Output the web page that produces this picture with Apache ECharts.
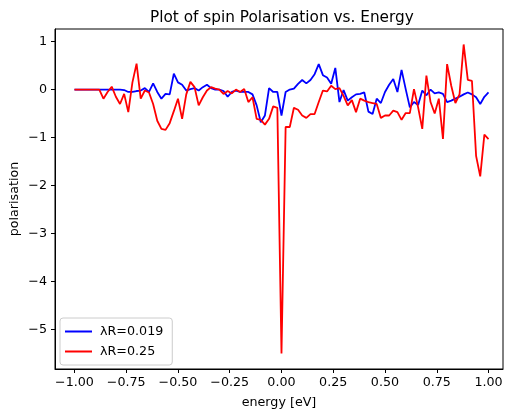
<!DOCTYPE html>
<html><head><meta charset="utf-8">
<script src="https://cdn.jsdelivr.net/npm/echarts@6/dist/echarts.min.js"></script>
<style>html,body{margin:0;padding:0;background:#fff}#c{width:506px;height:411px}</style>
</head><body><div id="c"></div>
<script>
// energy grid [eV]
const energy = [
 -1.00,-0.98,-0.96,-0.94,-0.92,-0.90,-0.88,-0.86,-0.84,-0.82,
 -0.80,-0.78,-0.76,-0.74,-0.72,-0.70,-0.68,-0.66,-0.64,-0.62,
 -0.60,-0.58,-0.56,-0.54,-0.52,-0.50,-0.48,-0.46,-0.44,-0.42,
 -0.40,-0.38,-0.36,-0.34,-0.32,-0.30,-0.28,-0.26,-0.24,-0.22,
 -0.20,-0.18,-0.16,-0.14,-0.12,-0.10,-0.08,-0.06,-0.04,-0.02,
  0.00,
  0.02, 0.04, 0.06, 0.08, 0.10, 0.12, 0.14, 0.16, 0.18, 0.20,
  0.22, 0.24, 0.26, 0.28, 0.30, 0.32, 0.34, 0.36, 0.38, 0.40,
  0.42, 0.44, 0.46, 0.48, 0.50, 0.52, 0.54, 0.56, 0.58, 0.60,
  0.62, 0.64, 0.66, 0.68, 0.70, 0.72, 0.74, 0.76, 0.78, 0.80,
  0.82, 0.84, 0.86, 0.88, 0.90, 0.92, 0.94, 0.96, 0.98, 1.00
];
// polarisation, lambdaR = 0.019
const polLow = [
  0, 0, 0, 0, 0, 0, 0, 0, 0, 0,
  0, 0, -0.01, -0.05, -0.05, -0.03, -0.02, 0.03, -0.05, 0.13,
  -0.05, -0.19, -0.09, -0.10, 0.33, 0.15, 0.10, -0.02, 0.01, 0.03,
  -0.02, 0.05, 0.10, 0.03, 0, 0, -0.03, -0.15, -0.05, -0.02,
  -0.05, -0.05, -0.05, -0.10, -0.33, -0.68, -0.54, 0.03, -0.05, -0.05,
  -0.54,
  -0.05, 0, 0.02, 0.12, 0.20, 0.13, 0.20, 0.32, 0.53, 0.30,
  0.25, 0.12, 0.45, -0.26, -0.01, -0.23, -0.16, -0.10, -0.09, -0.06,
  -0.46, -0.51, -0.19, -0.28, -0.05, 0.10, 0.22, -0.05, 0.41, 0.01,
  -0.37, -0.26, -0.32, -0.02, -0.12, 0, -0.08, -0.06, -0.09, -0.26,
  -0.23, -0.19, -0.15, -0.10, -0.06, -0.10, -0.16, -0.30, -0.15, -0.06
];
// polarisation, lambdaR = 0.25
const polHigh = [
  0, 0, 0, 0, 0, 0, 0, -0.19, -0.05, 0.06,
  -0.15, -0.30, -0.09, -0.47, 0.15, 0.54, -0.19, -0.02, -0.06, -0.30,
  -0.65, -0.82, -0.84, -0.70, -0.45, -0.19, -0.61, -0.10, 0.16, 0.05,
  -0.33, -0.16, -0.02, 0.05, 0.02, 0.00, -0.09, -0.03, -0.08, 0.00,
  -0.05, 0.01, -0.26, -0.16, -0.61, -0.63, -0.73, -0.61, -0.35, -0.38,
  -5.50,
  -0.78, -0.78, -0.38, -0.42, -0.54, -0.59, -0.51, -0.51, -0.26, -0.02,
  -0.04, 0.08, 0.01, 0.03, -0.13, -0.33, -0.22, -0.47, -0.19, -0.23,
  -0.26, -0.28, -0.30, -0.59, -0.54, -0.54, -0.44, -0.47, -0.63, -0.49,
  -0.49, 0.01, -0.37, -0.82, 0.29, -0.26, -0.50, -0.19, -1.03, 0.53,
  0.08, -0.28, -0.10, 0.94, 0.20, 0.18, -1.38, -1.81, -0.94, -1.03
];
const seriesNames = ['\u03bbR=0.019', '\u03bbR=0.25'];
const xTicks = [-1, -0.75, -0.5, -0.25, 0, 0.25, 0.5, 0.75, 1];
const yTicks = [-5, -4, -3, -2, -1, 0, 1];

const FONT = 'DejaVu Sans';
const FS = 12.7;
const minus = s => s.replace('-', '\u2212');
const chart = echarts.init(document.getElementById('c'), null, {renderer: 'canvas'});
chart.setOption({
  animation: false,
  backgroundColor: '#fff',
  title: {
    text: 'Plot of spin Polarisation vs. Energy',
    left: 145, top: 6,
    textStyle: {fontFamily: FONT, fontSize: 15.3, fontWeight: 'normal', color: '#000'}
  },
  legend: {
    orient: 'vertical',
    left: 60, top: 318,
    data: seriesNames,
    icon: 'rect',
    itemWidth: 27, itemHeight: 2,
    itemGap: 7,
    padding: [7, 9, 7, 5],
    backgroundColor: 'rgba(255,255,255,0.8)',
    borderColor: '#cccccc', borderWidth: 1, borderRadius: 3,
    textStyle: {fontFamily: FONT, fontSize: FS, color: '#000', padding: [0, 0, 0, 3]}
  },
  grid: {
    left: 55, right: 3, top: 29, bottom: 42,
    containLabel: false,
    outerBoundsMode: 'none',
    show: true, borderColor: '#000', borderWidth: 1, backgroundColor: 'transparent'
  },
  xAxis: {
    type: 'value', min: -1.094, max: 1.070,
    name: 'energy [eV]', nameLocation: 'middle', nameGap: 27,
    nameMoveOverlap: false,
    nameTextStyle: {fontFamily: FONT, fontSize: FS, color: '#000'},
    axisLine: {show: true, onZero: false, lineStyle: {color: '#000', width: 1}},
    axisTick: {show: true, length: 4, lineStyle: {color: '#000'}, customValues: xTicks},
    axisLabel: {
      fontFamily: FONT, fontSize: FS, color: '#000', margin: 7,
      customValues: xTicks,
      formatter: v => minus(Number(v).toFixed(2))
    },
    splitLine: {show: false}
  },
  yAxis: {
    type: 'value', min: -5.822, max: 1.262,
    name: 'polarisation', nameLocation: 'middle', nameGap: 34, nameRotate: 90,
    nameMoveOverlap: false,
    nameTextStyle: {fontFamily: FONT, fontSize: FS, color: '#000'},
    axisLine: {show: true, onZero: false, lineStyle: {color: '#000', width: 1}},
    axisTick: {show: true, length: 4, lineStyle: {color: '#000'}, customValues: yTicks},
    axisLabel: {
      fontFamily: FONT, fontSize: FS, color: '#000', margin: 8,
      customValues: yTicks,
      formatter: v => minus(String(Math.round(v)))
    },
    splitLine: {show: false}
  },
  series: [
    {
      name: seriesNames[0], type: 'line', showSymbol: false,
      data: energy.map((e, i) => [e, polLow[i]]),
      lineStyle: {color: '#0000ff', width: 1.8}, itemStyle: {color: '#0000ff'}
    },
    {
      name: seriesNames[1], type: 'line', showSymbol: false,
      data: energy.map((e, i) => [e, polHigh[i]]),
      lineStyle: {color: '#ff0000', width: 1.8}, itemStyle: {color: '#ff0000'}
    }
  ]
});
</script>
</body></html>
